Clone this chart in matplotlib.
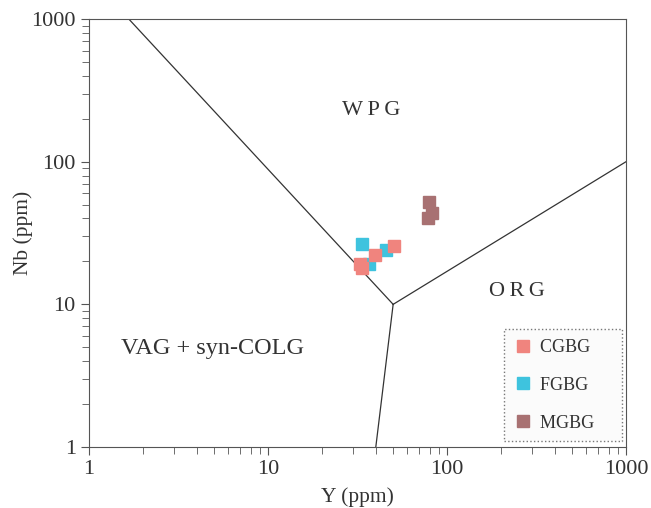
import numpy as np
import matplotlib.pyplot as plt

plt.rcParams['font.family'] = ['Liberation Serif', 'DejaVu Serif']

# sample data (Y ppm, Nb ppm)
cgbg_y = [32.7, 33.5, 39.6, 50.6]
cgbg_nb = [19.2, 18.0, 22.2, 25.6]
fgbg_y = [33.5, 45.6, 36.7]
fgbg_nb = [26.6, 24.0, 19.2]
mgbg_y = [79.3, 78.3, 82.5]
mgbg_nb = [52.1, 40.3, 43.6]

# Pearce et al. (1984) boundaries
wpg_vag_x = [1, 50]
wpg_vag_y = [2000, 10]
vag_org_x = [40, 50]
vag_org_y = [1, 10]
wpg_org_x = [50, 1000]
wpg_org_y = [10, 100]

fig = plt.figure(figsize=(6.51, 5.08), dpi=100)
ax = fig.add_axes([0.1367, 0.120, 0.825, 0.8426])
ax.set_xscale('log')
ax.set_yscale('log')
ax.set_xlim(1, 1000)
ax.set_ylim(1, 1000)

lc = '#333333'
ax.plot(wpg_vag_x, wpg_vag_y, color=lc, lw=0.9)
ax.plot(vag_org_x, vag_org_y, color=lc, lw=0.9)
ax.plot(wpg_org_x, wpg_org_y, color=lc, lw=0.9)

ms = 8.8
ax.plot(fgbg_y, fgbg_nb, 's', color='#3EC3DE', ms=ms, ls='none', label='FGBG')
ax.plot(cgbg_y, cgbg_nb, 's', color='#F0847E', ms=ms, ls='none', label='CGBG')
ax.plot(mgbg_y, mgbg_nb, 's', color='#A87172', ms=ms, ls='none', label='MGBG')

tc = '#333333'
ax.text(37.6, 230, 'W\u2009P\u2009G', fontsize=16, ha='center', va='center', color=tc)
ax.text(246, 12.4, 'O\u2009R\u2009G', fontsize=16, ha='center', va='center', color=tc)
ax.text(4.87, 4.94, 'VAG + syn-COLG', fontsize=17.5, ha='center', va='center', color=tc)

ax.set_xlabel('Y (ppm)', fontsize=15.5, labelpad=6, color=tc)
ax.set_ylabel('Nb (ppm)', fontsize=15.5, labelpad=-1.5, color=tc)
ax.set_xticks([1, 10, 100, 1000])
ax.set_xticklabels(['1', '10', '100', '1000'])
ax.set_yticks([1, 10, 100, 1000])
ax.set_yticklabels(['1', '10', '100', '1000'])
ax.tick_params(which='both', direction='out', top=False, right=False,
               labelsize=16, color='#555555', labelcolor=tc)
ax.tick_params(which='major', length=6)
ax.tick_params(which='minor', length=5)
for s in ax.spines.values():
    s.set_color('#555555')

handles, labels = ax.get_legend_handles_labels()
order = [1, 0, 2]
leg = ax.legend([handles[i] for i in order], [labels[i] + '    ' for i in order],
                loc='lower right', bbox_to_anchor=(0.992, 0.013),
                fontsize=13, frameon=True, fancybox=False, labelspacing=1.15,
                borderpad=0.55, handletextpad=0.4, handlelength=1.0,
                borderaxespad=0, markerscale=1.0)
for t in leg.get_texts():
    t.set_color(tc)
leg.get_frame().set_edgecolor('#555555')
leg.get_frame().set_linestyle(':')
leg.get_frame().set_facecolor('#fafafa')
leg.get_frame().set_linewidth(1.0)

fig.savefig('out.png', dpi=100)
